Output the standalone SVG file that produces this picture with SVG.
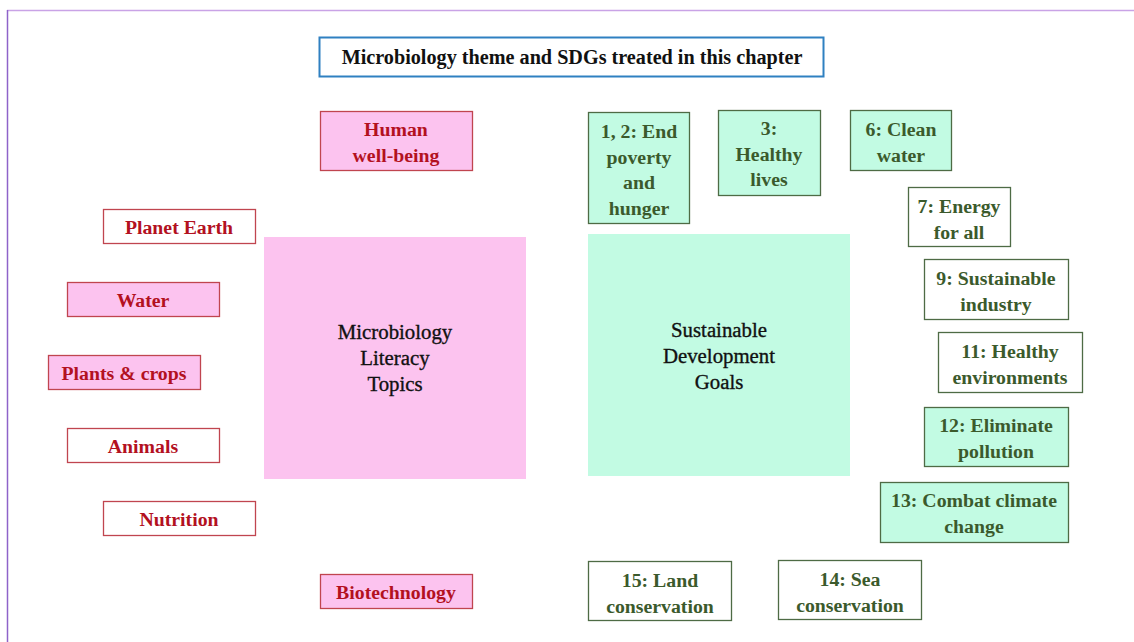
<svg xmlns="http://www.w3.org/2000/svg" width="1134" height="642" viewBox="0 0 1134 642">
<style>
text{font-family:"Liberation Serif","DejaVu Serif",serif;font-weight:bold;font-size:19.8px;text-anchor:middle;dominant-baseline:central}
.red rect{stroke:#c0454f;stroke-width:1.3}
.red text{fill:#b3111f}
.grn rect{stroke:#4e6b45;stroke-width:1.3}
.grn text{fill:#3b5a2c}
.pk{fill:#fcc3ef}
.mt{fill:#c2fbe3}
.wh{fill:#ffffff}
.big text{fill:#111;font-weight:normal;font-size:20.8px;stroke:#111;stroke-width:0.35}
</style>
<rect width="1134" height="642" fill="#ffffff"/>
<g id="frame">
<line x1="7" y1="10.5" x2="1134" y2="10.5" stroke="#c9a3e6" stroke-width="1.5"/>
<line x1="7.5" y1="10" x2="7.5" y2="642" stroke="#8e63c9" stroke-width="1.5"/>
</g>
<g id="title">
<rect x="319.5" y="37.5" width="504" height="39" fill="#fff" stroke="#2f80c1" stroke-width="2"/>
<text x="572" y="57" fill="#111" style="font-size:20.2px">Microbiology theme and SDGs treated in this chapter</text>
</g>
<g id="mlt" class="big">
<rect x="264" y="237" width="262" height="242" fill="#fcc3ef"/>
<text x="395" y="331">Microbiology</text>
<text x="395" y="357">Literacy</text>
<text x="395" y="383">Topics</text>
</g>
<g id="sdg" class="big">
<rect x="588" y="234" width="262" height="242" fill="#c2fbe3"/>
<text x="719" y="329">Sustainable</text>
<text x="719" y="355">Development</text>
<text x="719" y="381">Goals</text>
</g>
<g id="human" class="red"><rect class="pk" x="320.5" y="111.5" width="152" height="59"/><text x="396" y="129">Human</text><text x="396" y="155">well-being</text></g>
<g id="planet" class="red"><rect class="wh" x="103.5" y="209.5" width="152" height="34"/><text x="179" y="227">Planet Earth</text></g>
<g id="water" class="red"><rect class="pk" x="67.5" y="282.5" width="152" height="34"/><text x="143" y="300">Water</text></g>
<g id="plants" class="red"><rect class="pk" x="48.5" y="355.5" width="152" height="34"/><text x="124" y="373">Plants &amp; crops</text></g>
<g id="animals" class="red"><rect class="wh" x="67.5" y="428.5" width="152" height="34"/><text x="143" y="446">Animals</text></g>
<g id="nutrition" class="red"><rect class="wh" x="103.5" y="501.5" width="152" height="34"/><text x="179" y="519">Nutrition</text></g>
<g id="biotech" class="red"><rect class="pk" x="320.5" y="574.5" width="152" height="34"/><text x="396" y="592">Biotechnology</text></g>
<g id="sdg12" class="grn"><rect class="mt" x="588.5" y="112.5" width="101" height="111"/><text x="639" y="131">1, 2: End</text><text x="639" y="157">poverty</text><text x="639" y="182">and</text><text x="639" y="208">hunger</text></g>
<g id="sdg3" class="grn"><rect class="mt" x="718.5" y="110.5" width="102" height="85"/><text x="769" y="128">3:</text><text x="769" y="154">Healthy</text><text x="769" y="179">lives</text></g>
<g id="sdg6" class="grn"><rect class="mt" x="850.5" y="110.5" width="101" height="60"/><text x="901" y="129">6: Clean</text><text x="901" y="155">water</text></g>
<g id="sdg7" class="grn"><rect class="wh" x="908.5" y="187.5" width="102" height="59"/><text x="959" y="206">7: Energy</text><text x="959" y="232">for all</text></g>
<g id="sdg9" class="grn"><rect class="wh" x="924.5" y="259.5" width="144" height="60"/><text x="996" y="278">9: Sustainable</text><text x="996" y="304">industry</text></g>
<g id="sdg11" class="grn"><rect class="wh" x="938.5" y="332.5" width="144" height="60"/><text x="1010" y="351">11: Healthy</text><text x="1010" y="377">environments</text></g>
<g id="sdg12b" class="grn"><rect class="mt" x="924.5" y="407.5" width="144" height="59"/><text x="996" y="425">12: Eliminate</text><text x="996" y="451">pollution</text></g>
<g id="sdg13" class="grn"><rect class="mt" x="880.5" y="482.5" width="188" height="60"/><text x="974" y="500">13: Combat climate</text><text x="974" y="526">change</text></g>
<g id="sdg15" class="grn"><rect class="wh" x="588.5" y="561.5" width="143" height="59"/><text x="660" y="580">15: Land</text><text x="660" y="606">conservation</text></g>
<g id="sdg14" class="grn"><rect class="wh" x="778.5" y="560.5" width="143" height="59"/><text x="850" y="579">14: Sea</text><text x="850" y="605">conservation</text></g>
<g id="connectors"></g>
</svg>
